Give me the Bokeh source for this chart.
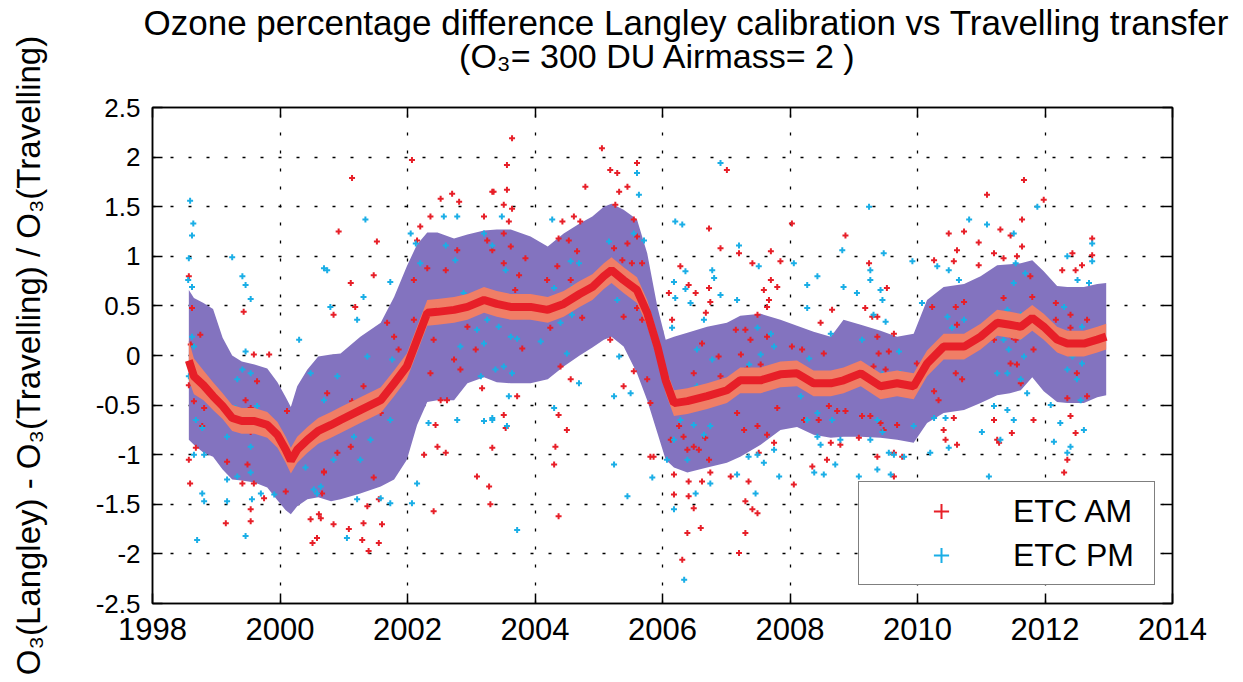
from bokeh.plotting import figure
from bokeh.models import (FixedTicker, CustomJSTickFormatter, LinearAxis, Title,
                          Legend, LegendItem, Range1d)
from bokeh.embed import file_html
from bokeh.resources import INLINE

# ---------------- data ----------------
x_ticks = [1998, 2000, 2002, 2004, 2006, 2008, 2010, 2012, 2014]
y_ticks = [-2.5, -2, -1.5, -1, -0.5, 0, 0.5, 1, 1.5, 2, 2.5]

band_year = [1998.57, 1998.65, 1998.80, 1998.95, 1999.10, 1999.25, 1999.40, 1999.60, 1999.80, 1999.96,
             2000.09, 2000.17, 2000.27, 2000.43, 2000.60, 2000.80, 2000.95, 2001.26, 2001.58, 2001.79,
             2001.99, 2002.15, 2002.31, 2002.47, 2002.73, 2002.94, 2003.20, 2003.40, 2003.62, 2003.93,
             2004.20, 2004.45, 2004.70, 2004.90, 2005.08, 2005.20, 2005.39, 2005.60, 2005.76, 2005.92,
             2006.05, 2006.18, 2006.39, 2006.70, 2007.01, 2007.22, 2007.54, 2007.85, 2008.11, 2008.37,
             2008.64, 2008.84, 2009.11, 2009.42, 2009.68, 2009.94, 2010.15, 2010.41, 2010.73, 2010.99,
             2011.25, 2011.45, 2011.62, 2011.80, 2011.98, 2012.19, 2012.35, 2012.61, 2012.82, 2012.96]

running_mean = [-0.05, -0.21, -0.30, -0.41, -0.51, -0.63, -0.66, -0.66, -0.70, -0.80,
                -0.95, -1.06, -0.95, -0.85, -0.76, -0.70, -0.65, -0.55, -0.45, -0.28,
                -0.11, 0.16, 0.43, 0.44, 0.46, 0.49, 0.56, 0.52, 0.49, 0.49,
                0.46, 0.52, 0.62, 0.69, 0.80, 0.86, 0.76, 0.66, 0.43, 0.09,
                -0.25, -0.48, -0.46, -0.41, -0.35, -0.25, -0.25, -0.19, -0.18, -0.28,
                -0.28, -0.25, -0.18, -0.31, -0.28, -0.31, -0.08, 0.09, 0.09, 0.19,
                0.33, 0.31, 0.29, 0.38, 0.29, 0.16, 0.12, 0.12, 0.16, 0.19]

mean_halfwidth = [0.20, 0.18, 0.15, 0.14, 0.13, 0.13, 0.13, 0.13, 0.13, 0.13,
                  0.13, 0.13, 0.13, 0.13, 0.13, 0.13, 0.13, 0.13, 0.13, 0.13,
                  0.13, 0.13, 0.13, 0.13, 0.13, 0.13, 0.13, 0.13, 0.13, 0.13,
                  0.13, 0.13, 0.13, 0.13, 0.13, 0.13, 0.13, 0.13, 0.13, 0.13,
                  0.13, 0.13, 0.13, 0.13, 0.13, 0.13, 0.13, 0.13, 0.13, 0.13,
                  0.13, 0.13, 0.13, 0.13, 0.13, 0.13, 0.13, 0.13, 0.13, 0.13,
                  0.13, 0.13, 0.13, 0.13, 0.13, 0.13, 0.13, 0.13, 0.13, 0.13]

spread_upper = [0.66, 0.58, 0.53, 0.47, 0.18, 0.00, -0.06, -0.09, -0.13, -0.27,
                -0.42, -0.52, -0.31, -0.14, -0.01, 0.01, 0.02, 0.19, 0.33, 0.59,
                0.90, 1.12, 1.24, 1.24, 1.18, 1.22, 1.26, 1.27, 1.27, 1.20,
                1.10, 1.23, 1.33, 1.40, 1.50, 1.53, 1.47, 1.37, 1.03, 0.49,
                0.16, 0.19, 0.23, 0.29, 0.33, 0.40, 0.42, 0.36, 0.30, 0.24,
                0.19, 0.36, 0.31, 0.25, 0.19, 0.22, 0.56, 0.69, 0.72, 0.80,
                0.91, 0.92, 0.93, 0.96, 0.85, 0.70, 0.69, 0.69, 0.72, 0.73]

spread_lower = [-0.85, -0.90, -0.98, -1.02, -1.15, -1.25, -1.26, -1.28, -1.33, -1.46,
                -1.56, -1.60, -1.52, -1.45, -1.43, -1.47, -1.45, -1.39, -1.32, -1.25,
                -1.05, -0.70, -0.47, -0.45, -0.45, -0.28, -0.22, -0.27, -0.28, -0.28,
                -0.24, -0.11, 0.00, 0.08, 0.16, 0.19, 0.09, -0.18, -0.45, -0.78,
                -1.05, -1.13, -1.18, -1.13, -1.08, -1.02, -0.90, -0.75, -0.72, -0.80,
                -0.83, -0.82, -0.82, -0.83, -0.85, -0.88, -0.68, -0.58, -0.55, -0.48,
                -0.40, -0.38, -0.35, -0.22, -0.36, -0.47, -0.48, -0.48, -0.42, -0.40]

etc_am = [
    (1998.57, 0.80), (1999.43, 0.44), (1998.62, 0.48), (1998.75, 0.21), (1998.60, 0.11), (1999.59, 0.01),
    (1999.83, 0.01), (1998.57, -0.30), (1998.65, -0.46), (1998.81, -0.53), (1998.78, -0.71), (1999.46, -0.45),
    (1999.54, -0.53), (1999.64, -0.26), (1999.54, -0.77), (1998.68, -0.93), (1998.57, -1.05), (1999.17, -1.07),
    (1999.49, -1.10), (1998.59, -1.29), (1999.41, -1.29), (1999.59, -1.29), (1999.75, -1.44), (1999.54, -1.55),
    (1999.15, -1.69), (1999.54, -1.67), (2000.11, -0.56), (2000.09, -1.37), (2000.48, -1.65), (2000.58, -1.84),
    (2000.51, -1.89), (2000.69, -1.17), (2000.66, -1.39), (2000.61, -1.60),
    (2002.07, 1.97), (2001.13, 1.79), (2000.92, 1.25), (2001.52, 1.15), (2001.47, 0.81), (2001.11, 0.73),
    (2001.18, 0.49), (2000.84, 0.41), (2002.52, 1.58), (2002.70, 1.63), (2002.81, 1.55), (2002.36, 1.40),
    (2002.20, 1.30), (2002.15, 1.16), (2002.31, 0.88), (2002.60, 0.86), (2002.10, 0.76), (2002.78, 1.06),
    (2003.20, 1.40), (2003.33, 1.65), (2003.25, 1.16), (2001.68, 0.33), (2001.79, 0.19), (2002.10, 0.36),
    (2002.41, 0.16), (2002.73, -0.04), (2002.83, -0.14), (2002.36, -0.18), (2002.52, -0.45), (2002.62, -0.45),
    (2002.44, -0.70), (2002.47, -0.92), (2002.60, -0.98), (2002.26, -1.00), (2002.41, -1.57), (2003.09, -1.22),
    (2003.28, -1.32), (2003.33, -0.93), (2003.17, -0.33), (2000.74, -0.38), (2001.13, -0.46), (2001.31, -0.31),
    (2001.58, -0.58), (2001.11, -0.92), (2000.69, -1.18), (2000.90, -0.98), (2001.47, -1.23), (2001.55, -1.45),
    (2001.37, -1.52), (2000.84, -1.70), (2001.08, -1.75), (2001.31, -1.69), (2001.29, -1.86), (2001.39, -1.97),
    (2001.55, -1.89), (2001.60, -1.70), (2000.64, -1.64), (2001.86, 0.06), (2001.94, -0.14), (2002.94, 0.29),
    (2003.07, 0.06),
    (2003.64, 2.19), (2003.56, 1.92), (2003.35, 1.65), (2003.56, 1.67), (2003.51, 1.52), (2003.64, 1.48),
    (2003.59, 1.35), (2003.62, 1.10), (2003.51, 1.23), (2003.33, 1.06), (2003.51, 0.93), (2003.75, 0.81),
    (2003.85, 0.98), (2005.05, 2.09), (2005.18, 1.87), (2005.29, 1.84), (2005.60, 1.94), (2004.79, 1.70),
    (2005.32, 1.65), (2005.45, 1.70), (2005.26, 1.52), (2004.61, 1.40), (2004.43, 1.35), (2004.71, 1.35),
    (2004.53, 1.16), (2004.66, 1.05), (2004.37, 1.18), (2005.55, 1.37), (2005.60, 1.20), (2005.45, 1.13),
    (2005.37, 0.96), (2005.52, 0.93), (2005.68, 0.93), (2005.24, 1.08), (2004.35, 0.90), (2004.56, 0.76),
    (2004.19, 0.76), (2003.69, 0.66), (2004.24, 0.28), (2003.80, 0.07), (2004.74, 0.38), (2005.39, 0.39),
    (2005.18, 0.16), (2005.60, 0.48), (2005.55, -0.16), (2005.39, -0.31), (2005.76, -0.24), (2005.81, -0.48),
    (2005.68, 0.36), (2004.40, -0.11), (2004.56, -0.24), (2004.37, -0.60), (2004.50, -0.75), (2003.51, -0.60),
    (2003.54, -0.73), (2003.72, -0.41), (2004.32, -0.92), (2004.30, -1.10), (2004.37, -1.62), (2003.30, -1.50),
    (2005.81, -1.02), (2005.86, -1.02),
    (2007.01, 1.87), (2006.73, 1.28), (2008.03, 1.33), (2006.91, 1.08), (2007.20, 1.03), (2007.70, 1.05),
    (2007.41, 0.93), (2007.85, 0.95), (2006.28, 0.90), (2007.70, 0.76), (2007.80, 0.69), (2007.59, 0.66),
    (2006.41, 0.71), (2006.73, 0.68), (2006.10, 0.63), (2006.52, 0.63), (2006.75, 0.54), (2007.67, 0.56),
    (2007.64, 0.49), (2007.49, 0.41), (2006.68, 0.43), (2006.15, 0.36), (2007.15, 0.26), (2007.30, 0.26),
    (2007.38, 0.16), (2007.64, 0.19), (2006.62, 0.12), (2007.23, 0.01), (2006.88, -0.01), (2007.33, -0.13),
    (2007.54, -0.09), (2006.49, -0.18), (2006.91, -0.21), (2007.70, -0.28), (2007.80, -0.53), (2007.17, -0.58),
    (2006.26, -0.71), (2006.33, -0.82), (2006.49, -0.92), (2006.39, -0.95), (2006.57, -0.95), (2006.73, -1.05),
    (2006.67, -0.83), (2006.13, -0.85), (2007.28, -0.75), (2007.49, -0.71), (2007.64, -0.80), (2007.75, -0.88),
    (2007.51, -0.98), (2006.18, -1.20), (2006.41, -1.27), (2006.75, -1.18), (2007.07, -1.22), (2007.35, -1.27),
    (2006.62, -1.27), (2006.18, -1.40), (2006.41, -1.42), (2006.49, -1.54), (2007.30, -1.47), (2007.41, -1.55),
    (2007.49, -1.59), (2006.39, -1.79), (2006.60, -1.74), (2007.30, -1.79), (2007.20, -1.99), (2006.31, -2.06),
    (2008.06, -1.30), (2008.35, -1.12), (2008.58, -1.05), (2008.22, -0.65), (2008.45, -0.65), (2008.61, -0.51),
    (2008.19, 0.06), (2008.53, 0.02), (2008.48, 0.33), (2008.66, 0.46), (2008.03, 0.09),
    (2011.09, 1.62), (2008.87, 1.21), (2010.49, 1.23), (2010.73, 1.25), (2010.96, 1.14), (2010.62, 1.06),
    (2011.30, 1.27), (2009.24, 0.93), (2010.26, 0.96), (2010.57, 0.95), (2010.96, 0.91), (2011.20, 1.03),
    (2009.52, 0.68), (2009.18, 0.48), (2009.29, 0.39), (2009.37, 0.39), (2010.23, 0.49), (2010.60, 0.49),
    (2010.73, 0.54), (2010.62, 0.31), (2009.37, 0.19), (2009.63, 0.22), (2009.39, 0.02), (2009.55, 0.04),
    (2009.99, -0.08), (2010.57, 0.02), (2011.20, 0.16), (2009.31, -0.11), (2009.50, -0.14), (2010.60, -0.18),
    (2010.70, -0.24), (2010.26, -0.36), (2010.33, -0.45), (2008.74, -0.56), (2008.87, -0.56), (2009.13, -0.61),
    (2009.26, -0.61), (2009.42, -0.68), (2009.47, -0.75), (2009.68, -0.70), (2010.41, -0.75), (2010.57, -0.63),
    (2009.08, -0.83), (2009.37, -1.02), (2009.63, -0.98), (2009.76, -1.02), (2010.44, -0.85), (2010.62, -0.90),
    (2009.63, -1.22), (2010.73, -1.30), (2011.20, -0.65), (2011.25, -0.85), (2011.28, -0.88), (2008.64, -0.88),
    (2008.79, -0.90),
    (2011.67, 1.77), (2011.98, 1.57), (2011.64, 1.37), (2012.74, 1.18), (2011.46, 1.21), (2011.64, 1.10),
    (2011.35, 0.98), (2011.56, 1.00), (2012.43, 1.03), (2012.58, 0.91), (2012.74, 1.01), (2012.27, 0.86),
    (2012.48, 0.86), (2011.77, 0.80), (2011.80, 0.59), (2011.35, 0.58), (2012.17, 0.53), (2012.40, 0.41),
    (2012.40, 0.28), (2012.17, 0.36), (2012.66, 0.36), (2011.48, 0.19), (2011.54, 0.16), (2011.82, 0.06),
    (2011.46, -0.08), (2011.56, -0.09), (2012.50, -0.18), (2012.66, 0.04), (2012.66, -0.41), (2012.35, -0.43),
    (2011.62, -0.28), (2011.82, -0.65), (2012.40, -0.61), (2012.48, -0.78), (2012.35, -1.05), (2012.30, -1.18),
    (2011.48, -0.78),
]

etc_pm = [
    (1998.59, 1.56), (1998.64, 1.33), (1998.62, 1.21), (1998.57, 0.98), (1999.25, 0.99), (1998.56, 0.76),
    (1998.62, 0.69), (1999.41, 0.80), (1999.46, 0.71), (1999.54, 0.57), (1998.62, 0.19), (1998.65, 0.09),
    (1998.57, -0.21), (1998.65, -0.31), (1998.68, -0.65), (1998.78, -0.73), (1999.46, 0.04), (1999.33, -0.24),
    (1999.41, -0.14), (1999.54, -0.18), (1999.30, -0.53), (1999.46, -0.71), (1999.54, -0.92), (1999.17, -0.82),
    (1998.81, -1.00), (1998.65, -1.00), (1999.17, -1.25), (1999.33, -1.22), (1998.78, -1.39), (1998.81, -1.47),
    (1999.17, -1.47), (1999.70, -1.39), (1999.91, -1.40), (1999.56, -1.45), (1998.70, -1.86), (1999.46, -1.82),
    (2000.30, 0.16), (2000.48, -0.18), (2000.30, -0.95), (2000.40, -1.13), (2000.53, -1.35), (2000.58, -1.39),
    (2000.69, 0.88), (2000.56, -0.71), (1999.54, -1.18), (1999.64, -0.51),
    (2001.34, 1.37), (2000.74, 0.86), (2001.31, 0.59), (2001.73, 0.74), (2000.79, 0.49), (2001.21, 0.36),
    (2002.05, 1.23), (2002.13, 1.13), (2002.57, 1.40), (2002.78, 1.40), (2002.60, 1.11), (2002.75, 0.96),
    (2002.20, 0.93), (2003.20, 1.23), (2002.88, 0.63), (2002.62, 0.43), (2003.09, 0.26), (2003.25, 0.36),
    (2003.20, 0.12), (2001.76, -0.04), (2001.37, -0.01), (2000.90, -0.21), (2000.69, -0.45), (2001.42, -0.58),
    (2001.73, -0.65), (2001.16, -0.82), (2001.42, -0.85), (2000.84, -1.05), (2001.26, -1.05), (2000.64, -1.32),
    (2001.21, -1.45), (2001.58, -1.44), (2001.73, -1.49), (2002.15, -1.29), (2002.07, -1.49), (2001.05, -1.84),
    (2002.78, -0.65), (2002.33, -0.68), (2003.20, -0.66), (2003.33, -0.63), (2003.15, -0.21), (2002.83, 0.09),
    (2005.60, 1.84), (2005.63, 1.62), (2004.27, 1.37), (2003.48, 1.40), (2003.33, 1.11), (2003.54, 0.86),
    (2005.16, 1.15), (2005.55, 1.23), (2005.71, 1.16), (2004.56, 0.95), (2004.69, 0.93), (2004.30, 0.68),
    (2004.58, 0.68), (2005.29, 0.56), (2003.46, 0.56), (2003.62, 0.46), (2003.83, 0.39), (2004.40, 0.33),
    (2004.50, 0.02), (2004.58, 0.41), (2003.43, 0.29), (2003.62, 0.19), (2003.72, 0.17), (2004.09, 0.14),
    (2003.38, -0.14), (2003.51, -0.11), (2003.64, -0.18), (2005.24, -0.41), (2005.32, -0.01), (2005.50, -0.38),
    (2004.69, -0.28), (2004.30, -0.53), (2003.33, -0.65), (2003.56, -0.71), (2003.59, -0.41), (2003.72, -1.76),
    (2005.24, -1.10), (2005.45, -1.42), (2005.84, -1.23),
    (2006.91, 1.94), (2006.20, 1.35), (2006.31, 1.32), (2007.20, 1.11), (2007.51, 0.90), (2008.06, 0.93),
    (2006.78, 0.86), (2006.81, 0.78), (2006.36, 0.85), (2006.18, 0.74), (2006.36, 0.67), (2008.43, 0.80),
    (2008.27, 0.71), (2006.91, 0.61), (2007.17, 0.56), (2006.20, 0.58), (2006.44, 0.53), (2008.27, 0.48),
    (2006.65, 0.36), (2006.15, 0.28), (2007.70, 0.22), (2007.49, 0.28), (2007.75, 0.09), (2006.54, 0.06),
    (2006.78, -0.04), (2007.36, -0.09), (2007.54, 0.01), (2006.54, -0.31), (2007.28, -0.24), (2006.41, -0.41),
    (2006.65, -0.45), (2006.75, -0.71), (2006.49, -0.70), (2006.28, -0.65), (2006.65, -0.80), (2006.18, -0.85),
    (2006.39, -1.05), (2006.07, -1.05), (2007.35, -1.02), (2007.75, -0.95), (2007.59, -1.08), (2007.49, -1.00),
    (2006.75, -1.29), (2006.52, -1.39), (2007.17, -1.20), (2007.46, -1.39), (2007.83, -1.22), (2006.18, -1.55),
    (2006.34, -2.26), (2008.43, -0.82), (2008.48, -0.90), (2008.38, -1.18), (2008.53, -1.20), (2008.17, -0.41),
    (2008.43, -0.58), (2008.27, -0.65), (2008.64, 0.22), (2008.30, -0.03),
    (2009.24, 1.50), (2010.81, 1.37), (2011.09, 1.32), (2008.82, 1.06), (2009.47, 1.03), (2009.92, 0.95),
    (2010.31, 0.90), (2010.49, 0.86), (2009.26, 0.86), (2009.26, 0.76), (2008.84, 0.69), (2010.65, 0.76),
    (2009.42, 0.66), (2009.05, 0.63), (2010.07, 0.53), (2009.45, 0.56), (2009.50, 0.34), (2009.31, 0.41),
    (2010.47, 0.39), (2010.73, 0.36), (2010.54, 0.28), (2009.13, 0.16), (2009.71, 0.04), (2009.73, -0.18),
    (2009.45, -0.19), (2010.62, 0.09), (2010.70, -0.01), (2010.83, 0.09), (2011.25, -0.18), (2011.20, -0.51),
    (2008.66, -0.65), (2008.79, -0.85), (2009.37, -0.65), (2009.45, -0.77), (2009.94, -0.71), (2010.26, -0.63),
    (2010.44, -0.63), (2009.26, -0.85), (2009.55, -0.98), (2009.63, -1.00), (2009.79, -1.02), (2010.20, -0.98),
    (2008.71, -1.10), (2009.37, -1.15), (2009.58, -1.20), (2009.08, -1.22), (2009.26, -1.30), (2010.49, -0.93),
    (2011.01, -0.77), (2011.12, -1.22),
    (2011.88, 1.50), (2011.51, 1.23), (2012.74, 1.13), (2012.74, 0.95), (2012.35, 1.00), (2012.51, 0.76),
    (2012.69, 0.73), (2011.54, 0.93), (2011.69, 0.83), (2011.51, 0.73), (2011.41, 0.46), (2011.62, 0.41),
    (2012.30, 0.49), (2012.58, 0.29), (2011.35, 0.16), (2011.62, 0.19), (2012.40, 0.12), (2011.43, 0.06),
    (2011.67, -0.01), (2012.43, -0.01), (2012.58, -0.08), (2012.35, -0.14), (2011.41, -0.18), (2011.62, -0.24),
    (2012.50, -0.24), (2011.72, -0.38), (2012.56, -0.45), (2011.41, -0.55), (2011.51, -0.65), (2012.09, -0.50),
    (2012.24, -0.68), (2012.14, -0.87), (2012.40, -0.92), (2012.61, -0.75), (2012.35, -0.98), (2011.30, -0.85),
]

am_year = [pt[0] for pt in etc_am]
am_value = [pt[1] for pt in etc_am]
pm_year = [pt[0] for pt in etc_pm]
pm_value = [pt[1] for pt in etc_pm]
mean_upper = [m + h for m, h in zip(running_mean, mean_halfwidth)]
mean_lower = [m - h for m, h in zip(running_mean, mean_halfwidth)]

title_line1 = "Ozone percentage difference  Langley  calibration  vs Travelling transfer"
title_line2 = "(O\u2083= 300 DU  Airmass= 2 )"
y_label = "O\u2083(Langley) - O\u2083(Travelling) / O\u2083(Travelling)"
legend_labels = ["ETC AM", "ETC PM"]

# ---------------- styling ----------------
FONT = "Liberation Sans"
C_PURPLE = "#8373BF"
C_SALMON = "#F07E66"
C_RED = "#E71F28"
C_CYAN = "#1AAEE6"

W, H = 1235, 674
p = figure(width=W, height=H, output_backend="svg", toolbar_location=None,
           x_range=Range1d(1998, 2014), y_range=Range1d(-2.5, 2.5),
           min_border_left=152, min_border_right=63, min_border_top=107, min_border_bottom=71)
p.background_fill_color = "white"
p.border_fill_color = "white"
p.outline_line_color = "black"
p.outline_line_width = 1.5

xt = FixedTicker(ticks=x_ticks)
yt = FixedTicker(ticks=y_ticks)
fmt = CustomJSTickFormatter(code="return String(tick)")
blank = CustomJSTickFormatter(code="return ''")

xaxis = p.below[0]
yaxis = p.left[0]
xaxis.ticker = xt
yaxis.ticker = yt
xaxis.formatter = fmt
yaxis.formatter = fmt

top_axis = LinearAxis(ticker=xt, formatter=blank)
right_axis = LinearAxis(ticker=yt, formatter=blank)
p.add_layout(top_axis, "above")
p.add_layout(right_axis, "right")

for ax in [xaxis, yaxis, top_axis, right_axis]:
    ax.axis_line_color = "black"
    ax.axis_line_width = 1.5
    ax.major_tick_line_color = "black"
    ax.major_tick_line_width = 1.5
    ax.major_tick_in = 10
    ax.major_tick_out = 0
    ax.minor_tick_line_color = None
    ax.major_label_standoff = 0

xaxis.major_label_text_font = FONT
xaxis.major_label_text_font_size = "31px"
xaxis.major_label_text_color = "black"
xaxis.major_label_standoff = 14
yaxis.major_label_text_font = FONT
yaxis.major_label_text_font_size = "26px"
yaxis.major_label_text_color = "black"
yaxis.major_label_standoff = 12
yaxis.axis_label = y_label
yaxis.axis_label_text_font = FONT
yaxis.axis_label_text_font_size = "33px"
yaxis.axis_label_text_font_style = "normal"
yaxis.axis_label_text_color = "black"
yaxis.axis_label_standoff = 46

for g, t in [(p.xgrid[0], xt), (p.ygrid[0], yt)]:
    g.ticker = t
    g.grid_line_color = "black"
    g.grid_line_width = 1.3
    g.grid_line_dash = "3 15"

# ---------------- glyphs ----------------
p.varea(x=band_year, y1=spread_lower, y2=spread_upper, fill_color=C_PURPLE, fill_alpha=1.0)
r_am = p.scatter(am_year, am_value, marker="cross", size=6, line_color=C_RED, line_width=2)
r_pm = p.scatter(pm_year, pm_value, marker="cross", size=6, line_color=C_CYAN, line_width=2)
p.varea(x=band_year, y1=mean_lower, y2=mean_upper, fill_color=C_SALMON, fill_alpha=1.0)
p.line(band_year, running_mean, line_color=C_RED, line_width=8)

legend = Legend(items=[LegendItem(label=legend_labels[0], renderers=[r_am]),
                       LegendItem(label=legend_labels[1], renderers=[r_pm])],
                location=(706, 18), orientation="vertical",
                border_line_color="black", border_line_width=1.5,
                background_fill_color="white", background_fill_alpha=1.0,
                padding=10, spacing=6, margin=0,
                glyph_width=144, glyph_height=38, label_standoff=0,
                label_width=131, label_height=38,
                label_text_font=FONT, label_text_font_size="32px", label_text_color="black")
p.add_layout(legend)

# ---------------- titles ----------------
p.add_layout(Title(text=title_line2, align="center", text_font=FONT, text_font_size="34px",
                   text_font_style="normal", text_color="black", standoff=66), "above")
p.title.text = title_line1
p.title.align = "left"
p.title.offset = -9
p.title.text_font = FONT
p.title.text_font_size = "35px"
p.title.text_font_style = "normal"
p.title.text_color = "black"
p.title.standoff = -80

open("out.html", "w").write(file_html(p, INLINE))
